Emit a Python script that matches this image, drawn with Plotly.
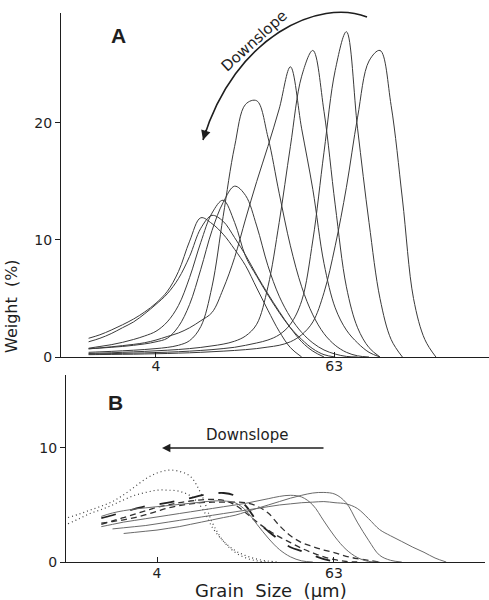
import plotly.graph_objects as go

# Grain-size classes (quarter-phi steps), micrometres
SIZES = [1.0, 1.19, 1.41, 1.68, 2.0, 2.38, 2.83, 3.36, 4.0, 4.76, 5.66, 6.73, 8.0, 9.51,
         11.3, 13.5, 16.0, 19.0, 22.6, 26.9, 32.0, 38.1, 45.3, 53.8, 64.0, 76.1, 90.5,
         108, 128, 152, 181, 215, 256, 304, 362]

# Panel A: weight % per class, all starting at 1.41 um
A_START = 2
A1 = [1.6, 1.9, 2.3, 2.75, 3.25, 3.85, 4.6, 5.6, 7.3, 9.9, 11.9, 11.4, 10.5, 9.2, 7.8, 5.9, 4.0, 2.2, 0.8, 0]
A2 = [1.3, 1.6, 2.0, 2.5, 3.0, 3.7, 4.5, 5.4, 6.7, 8.6, 11.0, 12.1, 11.6, 10.2, 8.7, 7.0, 5.4, 3.9, 2.5, 1.3, 0.5, 0]
A3 = [0.75, 0.9, 1.05, 1.25, 1.5, 1.8, 2.2, 3.0, 4.4, 6.8, 9.8, 12.3, 13.4, 11.5, 8.6, 6.9, 5.3, 3.8, 2.5, 1.5, 0.7, 0.2, 0]
A4 = [0.7, 0.76, 0.83, 0.9, 1.0, 1.12, 1.3, 1.6, 2.6, 4.5, 7.5, 10.8, 13.2, 14.6, 13.8, 11.2, 7.8, 5.2, 3.4, 2.1, 1.2, 0.6, 0.25, 0.05, 0]
A5 = [0.4, 0.44, 0.48, 0.53, 0.58, 0.64, 0.72, 0.82, 1.0, 1.4, 2.6, 6.0, 12.0, 18.0, 21.6, 21.9, 18.8, 14.0, 9.5, 6.0, 3.6, 2.0, 1.0, 0.4, 0.1, 0]
A6 = [0.7, 0.78, 0.87, 0.97, 1.08, 1.22, 1.45, 1.75, 2.05, 2.5, 3.1, 3.8, 5.8, 8.5, 11.8, 15.0, 18.0, 21.2, 24.8, 19.5, 14.3, 8.0, 4.2, 2.3, 1.2, 0.4, 0]
A7 = [0.3, 0.33, 0.36, 0.4, 0.44, 0.48, 0.53, 0.58, 0.64, 0.72, 0.82, 0.95, 1.1, 1.35, 1.8, 2.8, 6.0, 11.5, 18.0, 24.0, 26.2, 21.0, 13.0, 6.0, 2.5, 0.8, 0]
A8 = [0.25, 0.27, 0.29, 0.31, 0.33, 0.35, 0.38, 0.41, 0.45, 0.5, 0.56, 0.63, 0.72, 0.83, 1.0, 1.2, 1.45, 1.9, 2.8, 4.8, 10.0, 17.5, 24.5, 27.8, 19.5, 11.5, 5.0, 1.5, 0]
A9 = [0.2, 0.21, 0.22, 0.23, 0.24, 0.26, 0.28, 0.3, 0.33, 0.36, 0.4, 0.45, 0.5, 0.56, 0.63, 0.72, 0.85, 1.0, 1.3, 1.9, 3.0, 5.5, 9.5, 14.5, 20.5, 25.3, 26.2, 21.5, 13.5, 5.0, 1.5, 0]
A_CURVES = [A1, A2, A3, A4, A5, A6, A7, A8, A9]

# Panel B: (first class index, values, line style)
B_DOT1 = [3.9, 4.2, 4.55, 4.9, 5.3, 5.9, 6.6, 7.3, 7.8, 8.05, 7.95, 7.5, 5.9, 3.4, 1.8, 0.85, 0.35, 0.1, 0]
B_DOT2 = [3.35, 3.8, 4.25, 4.6, 5.0, 5.45, 5.85, 6.1, 6.3, 6.3, 6.2, 5.8, 4.8, 3.0, 1.8, 1.0, 0.55, 0.25, 0.08, 0]
B_LDASH = [3.85, 4.1, 4.4, 4.65, 4.9, 5.05, 5.2, 5.4, 5.6, 5.85, 6.0, 6.05, 5.8, 4.9, 3.6, 2.7, 1.95, 1.3, 0.95, 0.6, 0.25, 0.05, 0]
B_DASH1 = [3.4, 3.55, 3.7, 3.9, 4.15, 4.45, 4.75, 4.95, 5.1, 5.2, 5.25, 5.25, 5.25, 5.2, 4.9, 4.3, 3.2, 2.3, 1.7, 1.35, 1.05, 0.8, 0.5, 0.3, 0.15, 0]
B_DASH2 = [3.3, 3.6, 3.9, 4.2, 4.5, 4.8, 5.0, 5.2, 5.35, 5.45, 5.5, 5.4, 5.0, 4.3, 3.5, 2.8, 2.2, 1.7, 1.2, 0.8, 0.45, 0.2, 0.05, 0]
B_SOL1 = [2.5, 2.6, 2.7, 2.8, 2.95, 3.1, 3.3, 3.5, 3.7, 3.9, 4.1, 4.4, 4.7, 5.0, 5.3, 5.6, 5.85, 6.05, 6.1, 5.95, 5.2, 3.5, 1.9, 0.6, 0.15, 0]
B_SOL2 = [3.1, 3.3, 3.5, 3.65, 3.8, 3.95, 4.1, 4.25, 4.4, 4.55, 4.7, 4.85, 5.0, 5.15, 5.35, 5.55, 5.75, 5.85, 5.7, 5.0, 3.6, 2.2, 1.1, 0.4, 0.05, 0]
B_SOL3 = [2.9, 3.0, 3.1, 3.2, 3.35, 3.5, 3.65, 3.8, 3.95, 4.1, 4.25, 4.4, 4.55, 4.7, 4.85, 5.0, 5.1, 5.2, 5.25, 5.3, 5.2, 5.1, 4.7, 3.8, 2.85, 2.3, 1.8, 1.3, 0.85, 0.35, 0]
B_SOL4 = [4.0, 4.3, 4.5, 4.65, 4.75, 4.85, 4.95, 5.05, 5.15, 5.25, 5.35, 5.35, 5.2, 4.5, 3.3, 2.1, 1.1, 0.45, 0.1, 0]
B_CURVES = [
    (0, B_DOT1, "dot"), (0, B_DOT2, "dot"),
    (3, B_LDASH, "longdash"), (3, B_DASH1, "dash"), (3, B_DASH2, "dash"),
    (5, B_SOL1, "solid"), (3, B_SOL2, "solid"), (4, B_SOL3, "solid"), (3, B_SOL4, "solid"),
]

X_TICKS = [4, 63]
X_TICKTEXT = ["4", "63"]
A_YTICKS = [0, 10, 20]
B_YTICKS = [0, 10]

W, H = 489, 600
FONT = "DejaVu Sans"
INK = "#1e1e1e"

fig = go.Figure()

for vals in A_CURVES:
    fig.add_trace(go.Scatter(x=SIZES[A_START:A_START + len(vals)], y=vals, mode="lines",
                             line=dict(color="#3a3a3a", width=1, shape="spline", smoothing=1.0),
                             xaxis="x", yaxis="y", showlegend=False, hoverinfo="skip"))

for start, vals, dash in B_CURVES:
    if dash == "solid":
        ln = dict(color="#6a6a6a", width=1, dash=dash)
    elif dash == "longdash":
        ln = dict(color="#202020", width=1.8, dash="longdash")
    elif dash == "dash":
        ln = dict(color="#303030", width=1.3, dash="6px,4px")
    else:
        ln = dict(color="#404040", width=1.2, dash="1px,3px")
    ln.update(shape="spline", smoothing=1.0)
    fig.add_trace(go.Scatter(x=SIZES[start:start + len(vals)], y=vals, mode="lines", line=ln,
                             xaxis="x2", yaxis="y2", showlegend=False, hoverinfo="skip"))

def px(x):
    return x / W

def py(y):
    return 1 - y / H

axis_common = dict(showgrid=False, zeroline=False, showline=True, linecolor=INK, linewidth=1.2,
                   tickcolor=INK, tickfont=dict(family=FONT, size=14, color=INK))

fig.update_layout(
    width=W, height=H, margin=dict(l=0, r=0, t=0, b=0, autoexpand=False),
    paper_bgcolor="white", plot_bgcolor="white", showlegend=False,
    xaxis=dict(domain=[px(61), px(489)], type="log", range=[-0.0362, 2.8395], anchor="y",
               tickvals=X_TICKS, ticktext=X_TICKTEXT, ticks="inside", ticklen=5,
               ticklabelstandoff=-4, **axis_common),
    yaxis=dict(domain=[py(357), py(13)], range=[0, 29.4], anchor="x",
               tickvals=A_YTICKS, ticks="outside", ticklen=5, **axis_common),
    xaxis2=dict(domain=[px(66), px(485)], type="log", range=[-0.0135, 2.8209], anchor="y2",
                tickvals=X_TICKS, ticktext=X_TICKTEXT, ticks="inside", ticklen=5,
                ticklabelstandoff=-2, **axis_common),
    yaxis2=dict(domain=[py(562), py(375)], range=[0, 16.4], anchor="x2",
                tickvals=B_YTICKS, ticks="outside", ticklen=5, **axis_common),
)

# Curved "Downslope" arrow in panel A
p0, p1, p2, p3 = (367, 17), (320, -2), (235, 35), (203, 140)
path = "M {},{} C {},{} {},{} {},{}".format(px(p0[0]), py(p0[1]), px(p1[0]), py(p1[1]),
                                           px(p2[0]), py(p2[1]), px(p3[0]), py(p3[1]))
fig.add_shape(type="path", path=path, xref="paper", yref="paper",
              line=dict(color=INK, width=1.6))

def label(x, y, text, size, angle=0, family=FONT):
    return dict(x=px(x), y=py(y), xref="paper", yref="paper", text=text, showarrow=False,
                xanchor="center", yanchor="middle", textangle=angle,
                font=dict(family=family, size=size, color=INK))

annotations = [
    dict(x=px(p3[0]), y=py(p3[1]), xref="paper", yref="paper", text="", showarrow=True,
         ax=3.5, ay=-11.5, arrowhead=2, arrowsize=1.2, arrowwidth=1.6, arrowcolor=INK),
    label(254, 41, "Downslope", 15, angle=-42),
    label(118, 35, "<b>A</b>", 21, family="Liberation Sans"),
    label(115, 402, "<b>B</b>", 21, family="Liberation Sans"),
    label(247, 435, "Downslope", 15),
    dict(x=px(162), y=py(448), xref="paper", yref="paper", text="", showarrow=True,
         ax=163, ay=0, arrowhead=2, arrowsize=1.2, arrowwidth=1.4, arrowcolor=INK),
    label(11, 306, "Weight  (%)", 16, angle=-90),
    label(271, 590, "Grain  Size  (µm)", 18),
]
fig.update_layout(annotations=annotations)

fig.write_html("out.html", config={"displayModeBar": False},
               post_script="document.body.style.margin='0';document.body.style.overflow='hidden';")
